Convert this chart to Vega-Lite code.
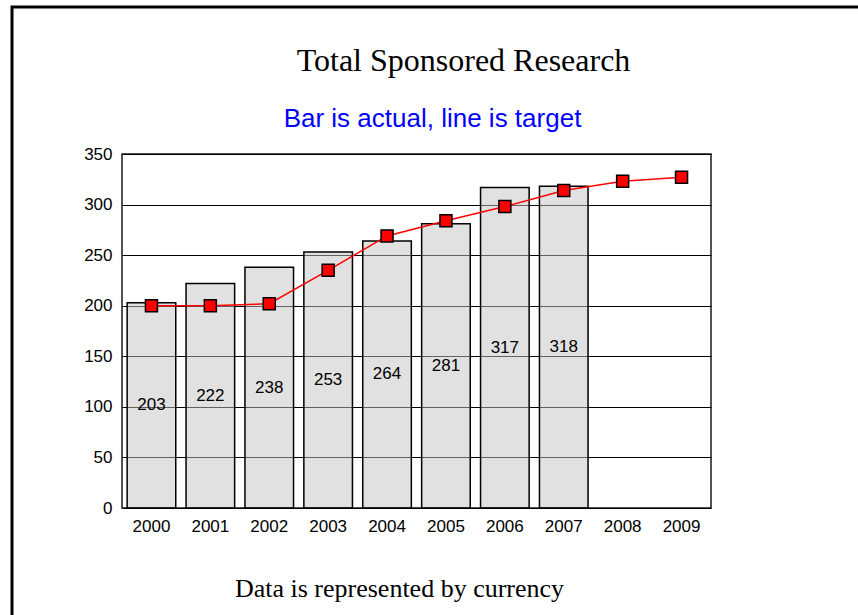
{
  "$schema": "https://vega.github.io/schema/vega-lite/v6.json",
  "autosize": {"type": "none"},
  "padding": {"left": 122, "top": 154, "right": 147, "bottom": 107},
  "width": 589,
  "height": 354,
  "background": "white",
  "title": {
    "text": "Total Sponsored Research",
    "anchor": "middle",
    "frame": "group",
    "dx": 47,
    "dy": 96,
    "offset": 24,
    "font": "Liberation Serif",
    "fontSize": 32,
    "fontWeight": "normal",
    "color": "black"
  },
  "data": {
    "values": [
      {"year": "2000", "actual": 203, "target": 200},
      {"year": "2001", "actual": 222, "target": 200},
      {"year": "2002", "actual": 238, "target": 202},
      {"year": "2003", "actual": 253, "target": 235},
      {"year": "2004", "actual": 264, "target": 269},
      {"year": "2005", "actual": 281, "target": 284},
      {"year": "2006", "actual": 317, "target": 298},
      {"year": "2007", "actual": 318, "target": 314},
      {"year": "2008", "actual": null, "target": 323},
      {"year": "2009", "actual": null, "target": 327}
    ]
  },
  "config": {
    "view": {"stroke": "#1a1a1a", "strokeWidth": 1.5},
    "axis": {
      "labelFont": "Liberation Sans",
      "labelFontSize": 17,
      "labelColor": "black",
      "ticks": false,
      "domain": false
    },
    "axisY": {
      "grid": true,
      "gridColor": "black",
      "gridWidth": 1.2,
      "labelPadding": 10,
      "titleAngle": 0,
      "titleAlign": "center",
      "titleBaseline": "alphabetic",
      "titleX": 310,
      "titleY": -28,
      "titleFont": "Liberation Sans",
      "titleFontSize": 26,
      "titleFontWeight": "normal",
      "titleColor": "#0000FF"
    },
    "axisX": {
      "grid": false,
      "labelAngle": 0,
      "labelPadding": 10,
      "titleAngle": 0,
      "titleAlign": "center",
      "titleBaseline": "alphabetic",
      "titleX": 277,
      "titleY": 88,
      "titleFont": "Liberation Serif",
      "titleFontSize": 26,
      "titleFontWeight": "normal",
      "titleColor": "black"
    }
  },
  "encoding": {
    "x": {
      "field": "year",
      "type": "ordinal",
      "title": "Data is represented by currency",
      "scale": {"paddingInner": 0.175, "paddingOuter": 0.0875}
    }
  },
  "layer": [
    {
      "mark": {"type": "bar", "fill": "#c4c4c4", "fillOpacity": 0.5, "stroke": "black", "strokeWidth": 1.5},
      "encoding": {
        "y": {
          "field": "actual",
          "type": "quantitative",
          "title": "Bar is actual, line is target",
          "scale": {"domain": [0, 350], "nice": false},
          "axis": {"values": [0, 50, 100, 150, 200, 250, 300, 350]}
        }
      }
    },
    {
      "transform": [{"filter": "datum.actual != null"}, {"calculate": "datum.actual / 2", "as": "mid"}],
      "mark": {"type": "text", "font": "Liberation Sans", "fontSize": 17, "color": "black", "baseline": "middle"},
      "encoding": {
        "y": {"field": "mid", "type": "quantitative", "title": "Bar is actual, line is target"},
        "text": {"field": "actual", "type": "quantitative"}
      }
    },
    {
      "mark": {"type": "line", "color": "red", "strokeWidth": 1.5},
      "encoding": {
        "y": {"field": "target", "type": "quantitative", "title": "Bar is actual, line is target"}
      }
    },
    {
      "mark": {"type": "point", "shape": "square", "filled": true, "fill": "red", "stroke": "black", "strokeWidth": 1.5, "size": 144, "opacity": 1},
      "encoding": {
        "y": {"field": "target", "type": "quantitative", "title": "Bar is actual, line is target"}
      }
    },
    {
      "mark": {"type": "point", "opacity": 0},
      "encoding": {
        "y": {"field": "target", "type": "quantitative", "title": "Bar is actual, line is target"},
        "color": {
          "field": "target",
          "type": "quantitative",
          "scale": {"range": ["white", "white"]},
          "legend": {
            "orient": "none",
            "legendX": -110,
            "legendY": -147,
            "direction": "vertical",
            "title": null,
            "labelExpr": "''",
            "labelOpacity": 0,
            "gradientLength": 1,
            "gradientThickness": 1,
            "gradientStrokeWidth": 0,
            "padding": 440,
            "strokeColor": "black",
            "encode": {"legend": {"update": {"strokeWidth": {"value": 3}}}}
          }
        }
      }
    }
  ]
}
